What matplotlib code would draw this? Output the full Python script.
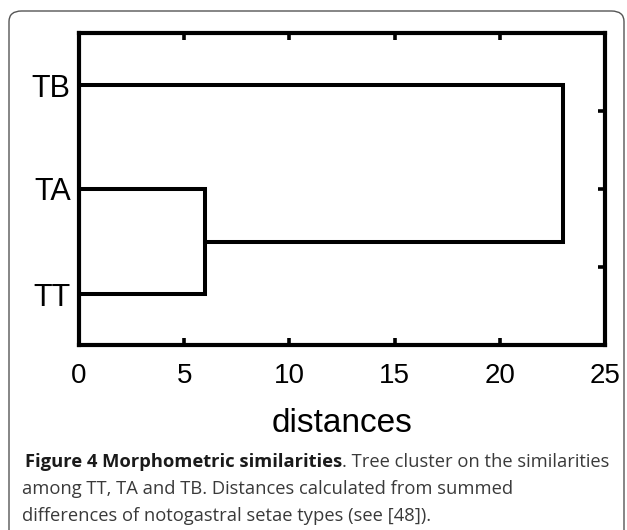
import matplotlib.pyplot as plt
from matplotlib.patches import FancyBboxPatch

# leaves of the tree (bottom to top) and where they sit on the y axis
leaves = ['TT', 'TA', 'TB']
leaf_y = [0.65, 2.0, 3.33]
# merge distances: (TT, TA) first, then with TB
merge_d = [6.0, 23.0]

x_ticks = [0, 5, 10, 15, 20, 25]
right_ticks = [1, 2, 3]

cap_bold = 'Figure 4 Morphometric similarities'
cap_lines = ['. Tree cluster on the similarities',
             'among TT, TA and TB. Distances calculated from summed',
             'differences of notogastral setae types (see [48]).']

fig = plt.figure(figsize=(6.27, 5.30), dpi=100)
ax = fig.add_axes([79 / 627, 1 - 345 / 530, 526 / 627, 312 / 530])

lw = 2.9
y_tt, y_ta, y_tb = leaf_y
# first cluster
ax.plot([0, merge_d[0], merge_d[0], 0], [y_tt, y_tt, y_ta, y_ta], color='black', lw=lw,
        solid_joinstyle='miter')
mid = (y_tt + y_ta) / 2
# second cluster
ax.plot([merge_d[0], merge_d[1], merge_d[1], 0], [mid, mid, y_tb, y_tb], color='black', lw=lw,
        solid_joinstyle='miter')

ax.set_xlim(0, 25)
ax.set_ylim(0, 4)
ax.set_xticks(x_ticks)
ax.set_xticklabels([str(t) for t in x_ticks], fontsize=20, family='Liberation Sans')
ax.set_yticks(leaf_y)
ax.set_yticklabels(leaves, fontsize=22, family='Liberation Sans')
ax.tick_params(axis='x', direction='in', top=True, length=5, width=2.6, pad=13)
ax.tick_params(axis='y', length=0, pad=6)
ax.set_xlabel('distances', fontsize=24, family='Liberation Sans', labelpad=14)
for s in ax.spines.values():
    s.set_linewidth(3.0)

ax2 = ax.twinx()
ax2.set_ylim(0, 4)
ax2.set_yticks(right_ticks)
ax2.set_yticklabels([])
ax2.tick_params(axis='y', direction='in', length=5, width=2.6)
for s in ax2.spines.values():
    s.set_visible(False)

# rounded frame around figure + caption
frame = FancyBboxPatch((9 / 627, -0.2), 615 / 627, (530 - 11) / 530 + 0.2,
                       boxstyle='round,pad=0,rounding_size=0.02',
                       transform=fig.transFigure, fill=False, ec='#555555', lw=1.0)
fig.patches.append(frame)

cap_font = 'Open Sans'
cap_size = 13.2
cap_col = '#3a3a3a'
t0 = fig.text(25 / 627, 1 - 462 / 530, cap_bold, fontsize=cap_size,
              family=cap_font, weight='bold', color='#1a1a1a', va='center')
bb = t0.get_window_extent(fig.canvas.get_renderer())
fig.text(bb.x1 / 627, 1 - 462 / 530, cap_lines[0], fontsize=cap_size,
         family=cap_font, color=cap_col, va='center')
fig.text(22 / 627, 1 - 489 / 530, cap_lines[1],
         fontsize=cap_size, family=cap_font, color=cap_col, va='center')
fig.text(22 / 627, 1 - 516 / 530, cap_lines[2],
         fontsize=cap_size, family=cap_font, color=cap_col, va='center')

fig.savefig('out.png', dpi=100)
